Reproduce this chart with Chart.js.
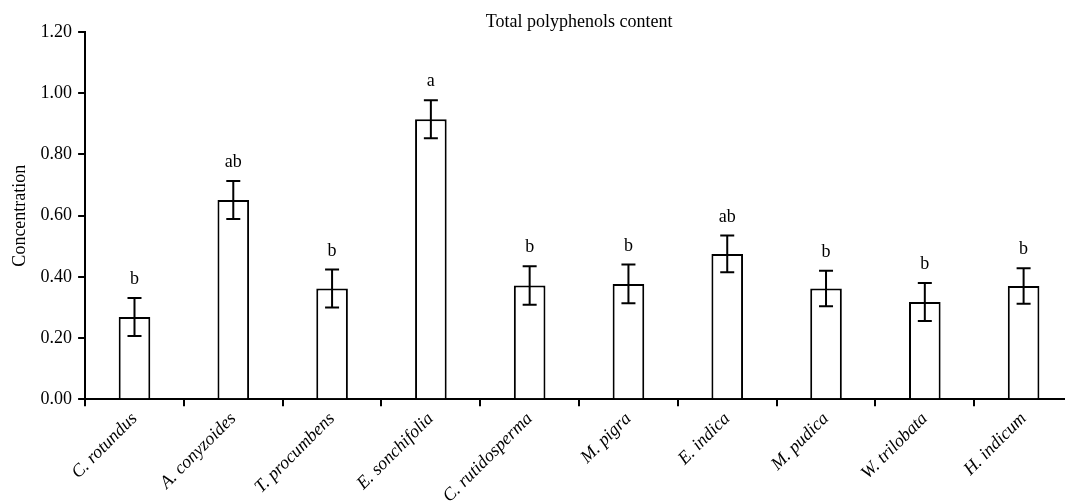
<!DOCTYPE html>
<html><head><meta charset="utf-8">
<script src="https://cdn.jsdelivr.net/npm/chart.js@4/dist/chart.umd.min.js"></script>
<style>html,body{margin:0;padding:0;background:#fff;overflow:hidden;}#wrap{width:1073px;height:509px;position:relative;}</style>
</head><body><div id="wrap"><canvas id="c"></canvas></div>
<script>
const categories = ['C. rotundus','A. conyzoides','T. procumbens','E. sonchifolia','C. rutidosperma','M. pigra','E. indica','M. pudica','W. trilobata','H. indicum'];
const means = [0.269, 0.651, 0.362, 0.915, 0.372, 0.377, 0.475, 0.362, 0.318, 0.370];
const errors = [0.062, 0.062, 0.062, 0.062, 0.063, 0.063, 0.06, 0.058, 0.062, 0.058];
const letters = ['b','ab','b','a','b','b','ab','b','b','b'];
const yTickValues = [0, 0.2, 0.4, 0.6, 0.8, 1.0, 1.2];
const titleText = 'Total polyphenols content';
const yTitle = 'Concentration';

const serif = "'Liberation Serif', 'Times New Roman', serif";

const errorBars = {
  id: 'errorBars',
  afterDatasetsDraw(chart) {
    const ctx = chart.ctx;
    const ys = chart.scales.y;
    const meta = chart.getDatasetMeta(0);
    ctx.save();
    ctx.strokeStyle = '#000';
    ctx.lineWidth = 2;
    ctx.fillStyle = '#000';
    ctx.font = '18px ' + serif;
    ctx.textAlign = 'center';
    ctx.textBaseline = 'alphabetic';
    meta.data.forEach((el, i) => {
      const x = el.x;
      const top = ys.getPixelForValue(means[i] + errors[i]);
      const bot = ys.getPixelForValue(means[i] - errors[i]);
      const cap = 7;
      ctx.beginPath();
      ctx.moveTo(x, top); ctx.lineTo(x, bot);
      ctx.moveTo(x - cap, top); ctx.lineTo(x + cap, top);
      ctx.moveTo(x - cap, bot); ctx.lineTo(x + cap, bot);
      ctx.stroke();
      ctx.fillText(letters[i], x, top - 14);
    });
    ctx.restore();
  }
};

const titlePlugin = {
  id: 'topTitle',
  afterDraw(chart) {
    const ctx = chart.ctx;
    const a = chart.chartArea;
    ctx.save();
    ctx.fillStyle = '#000';
    ctx.font = '18px ' + serif;
    ctx.textAlign = 'center';
    ctx.textBaseline = 'middle';
    ctx.fillText(titleText, (a.left + a.right) / 2, 22);
    ctx.restore();
  }
};

new Chart(document.getElementById('c'), {
  type: 'bar',
  data: {
    labels: categories,
    datasets: [{
      data: means,
      backgroundColor: '#fff',
      borderColor: '#000',
      borderWidth: 2,
      barPercentage: 0.64,
      categoryPercentage: 0.5
    }]
  },
  options: {
    responsive: true,
    maintainAspectRatio: false,
    animation: false,
    events: [],
    layout: { padding: { top: 32, left: 5, right: 0, bottom: 0 } },
    plugins: { legend: { display: false }, tooltip: { enabled: false }, title: { display: false } },
    scales: {
      x: {
        border: { color: '#000', width: 2 },
        grid: { drawOnChartArea: false, drawTicks: true, tickLength: 7, color: '#000', lineWidth: 2, offset: true },
        ticks: { color: '#000', font: { family: serif, size: 18, style: 'italic' }, minRotation: 45, maxRotation: 45, autoSkip: false, padding: 2 }
      },
      y: {
        min: 0, max: 1.2,
        afterBuildTicks(scale) { scale.ticks = yTickValues.map(v => ({ value: v })); },
        border: { color: '#000', width: 2 },
        grid: { drawOnChartArea: false, drawTicks: true, tickLength: 7, color: '#000', lineWidth: 2 },
        ticks: { color: '#000', font: { family: serif, size: 18 }, padding: 6, callback: v => Number(v).toFixed(2) },
        title: { display: true, text: yTitle, color: '#000', font: { family: serif, size: 18 }, padding: 4 }
      }
    }
  },
  plugins: [errorBars, titlePlugin]
});
</script></body></html>
